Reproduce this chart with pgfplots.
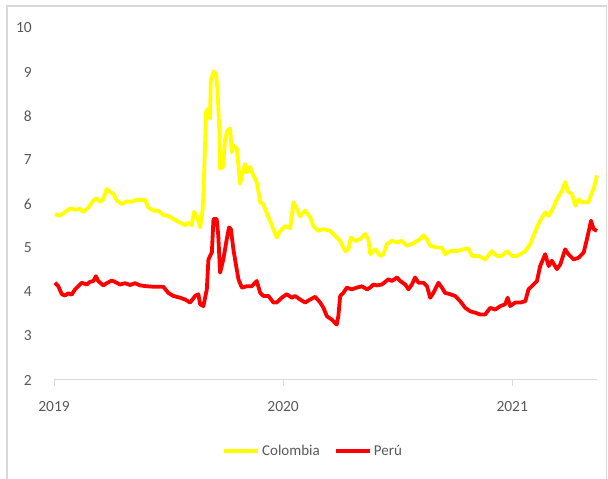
\documentclass[border=0pt]{standalone}
\usepackage{pgfplots}
\pgfplotsset{compat=1.18}
\usepackage{pgfplotstable}
\usepackage{fontspec}
\setmainfont{Carlito}
\definecolor{tickgray}{HTML}{595959}
\definecolor{axgray}{HTML}{D9D9D9}
\definecolor{framegray}{HTML}{D9D9D9}
\definecolor{colyellow}{HTML}{FFFF00}
\definecolor{perured}{HTML}{FF0000}

\pgfplotstableread{
x y
2019.004 5.77
2019.026 5.73
2019.048 5.82
2019.070 5.90
2019.092 5.87
2019.114 5.89
2019.128 5.82
2019.150 5.92
2019.172 6.08
2019.186 6.13
2019.201 6.05
2019.215 6.11
2019.230 6.34
2019.245 6.27
2019.259 6.23
2019.274 6.08
2019.296 6.00
2019.317 6.06
2019.339 6.05
2019.361 6.10
2019.383 6.09
2019.397 6.10
2019.412 5.92
2019.434 5.85
2019.455 5.85
2019.477 5.75
2019.499 5.73
2019.521 5.66
2019.550 5.58
2019.572 5.52
2019.586 5.57
2019.601 5.52
2019.611 5.82
2019.623 5.73
2019.638 5.47
2019.649 5.89
2019.653 6.34
2019.664 8.09
2019.674 8.17
2019.681 7.94
2019.684 8.78
2019.696 9.01
2019.707 8.97
2019.713 8.63
2019.722 7.64
2019.725 6.80
2019.737 6.84
2019.747 7.48
2019.757 7.67
2019.769 7.71
2019.776 7.18
2019.783 7.33
2019.798 7.26
2019.812 6.46
2019.820 6.65
2019.834 6.91
2019.841 6.72
2019.856 6.84
2019.870 6.65
2019.885 6.50
2019.900 6.04
2019.914 6.00
2019.921 5.89
2019.943 5.62
2019.972 5.24
2019.987 5.38
2020.009 5.50
2020.031 5.45
2020.045 6.04
2020.060 5.89
2020.074 5.72
2020.096 5.85
2020.118 5.70
2020.132 5.50
2020.154 5.39
2020.176 5.43
2020.205 5.39
2020.227 5.28
2020.249 5.16
2020.271 4.93
2020.285 4.97
2020.296 5.24
2020.314 5.16
2020.336 5.20
2020.358 5.32
2020.372 5.20
2020.380 4.86
2020.402 4.97
2020.424 4.82
2020.438 4.86
2020.453 5.09
2020.475 5.16
2020.497 5.13
2020.518 5.16
2020.540 5.05
2020.562 5.09
2020.584 5.16
2020.598 5.20
2020.613 5.29
2020.628 5.20
2020.642 5.05
2020.671 5.01
2020.693 5.01
2020.707 4.86
2020.729 4.93
2020.759 4.93
2020.787 4.97
2020.809 4.99
2020.824 4.82
2020.853 4.82
2020.882 4.74
2020.911 4.93
2020.933 4.82
2020.955 4.82
2020.977 4.93
2020.999 4.82
2021.021 4.82
2021.035 4.86
2021.057 4.93
2021.079 5.09
2021.093 5.28
2021.108 5.47
2021.122 5.62
2021.144 5.81
2021.159 5.73
2021.180 5.92
2021.195 6.11
2021.217 6.30
2021.231 6.50
2021.245 6.27
2021.261 6.23
2021.275 5.96
2021.290 6.11
2021.304 6.04
2021.333 6.04
2021.348 6.27
2021.355 6.34
2021.370 6.65
}\colombia

\pgfplotstableread{
x y
2019.004 4.21
2019.019 4.13
2019.034 3.95
2019.048 3.92
2019.062 3.97
2019.077 3.94
2019.092 4.06
2019.106 4.13
2019.121 4.21
2019.143 4.17
2019.157 4.23
2019.172 4.25
2019.183 4.36
2019.193 4.25
2019.215 4.15
2019.230 4.20
2019.252 4.26
2019.266 4.23
2019.288 4.17
2019.310 4.20
2019.332 4.16
2019.354 4.20
2019.376 4.15
2019.405 4.13
2019.434 4.12
2019.477 4.12
2019.499 3.98
2019.521 3.91
2019.550 3.87
2019.572 3.83
2019.594 3.76
2019.616 3.91
2019.630 3.95
2019.638 3.72
2019.652 3.68
2019.667 4.06
2019.674 4.74
2019.689 4.90
2019.696 5.66
2019.710 5.66
2019.717 5.28
2019.725 4.44
2019.739 4.74
2019.754 5.20
2019.764 5.47
2019.772 5.43
2019.783 4.97
2019.795 4.59
2019.805 4.29
2019.820 4.10
2019.841 4.13
2019.863 4.13
2019.885 4.25
2019.900 3.98
2019.914 3.91
2019.936 3.91
2019.958 3.76
2019.972 3.76
2019.994 3.87
2020.016 3.95
2020.038 3.87
2020.052 3.91
2020.074 3.83
2020.096 3.76
2020.118 3.83
2020.140 3.89
2020.162 3.76
2020.176 3.64
2020.191 3.45
2020.213 3.37
2020.234 3.26
2020.241 3.45
2020.249 3.91
2020.263 3.98
2020.278 4.10
2020.300 4.06
2020.322 4.10
2020.344 4.13
2020.366 4.06
2020.380 4.10
2020.394 4.17
2020.409 4.15
2020.431 4.17
2020.460 4.29
2020.475 4.25
2020.497 4.33
2020.511 4.25
2020.533 4.17
2020.547 4.06
2020.562 4.17
2020.576 4.33
2020.591 4.21
2020.613 4.21
2020.628 4.13
2020.642 3.87
2020.656 3.98
2020.678 4.21
2020.693 4.10
2020.707 3.98
2020.729 3.95
2020.751 3.91
2020.773 3.79
2020.795 3.64
2020.817 3.56
2020.838 3.53
2020.860 3.49
2020.882 3.49
2020.904 3.64
2020.926 3.60
2020.948 3.68
2020.969 3.72
2020.980 3.87
2020.991 3.68
2021.013 3.76
2021.035 3.76
2021.057 3.79
2021.071 4.06
2021.093 4.17
2021.108 4.25
2021.122 4.59
2021.144 4.86
2021.159 4.59
2021.173 4.71
2021.195 4.52
2021.210 4.63
2021.231 4.97
2021.245 4.86
2021.268 4.74
2021.290 4.78
2021.312 4.90
2021.326 5.20
2021.344 5.62
2021.355 5.43
2021.370 5.39
}\peru

\begin{document}
\begin{tikzpicture}[x=1pt,y=1pt]
\path[use as bounding box] (0,0) rectangle (608,479);
\draw[framegray, line width=1.2pt] (7,-2) -- (7,473) -- (606.5,473) -- (606.5,-2);
\begin{axis}[
  at={(54pt,99pt)}, anchor=south west,
  scale only axis,
  width=543pt, height=352pt,
  xmin=2019, xmax=2021.37,
  ymin=2, ymax=10,
  xtick={2019,2020,2021},
  xticklabels={2019,2020,2021},
  ytick={2,3,...,10},
  axis x line*=bottom,
  axis y line*=left,
  y axis line style={draw=none},
  x axis line style={axgray, line width=1pt},
  ytick style={draw=none},
  xtick style={axgray, line width=1pt},
  tick align=outside,
  major tick length=6pt,
  tick label style={font=\fontsize{15.5}{17}\selectfont, text=tickgray},
  /pgf/number format/assume math mode=true,
  y tick label style={anchor=east, inner sep=0pt, xshift=-16pt},
  x tick label style={anchor=north, inner sep=0pt, yshift=-15pt},
  legend columns=2,
  legend style={draw=none, fill=none, at={(0.477,-0.202)}, anchor=center,
    font=\fontsize{15}{17}\selectfont, text=tickgray,
    /tikz/every even column/.append style={column sep=12pt}},
  legend image code/.code={\draw[#1, line width=4pt] (0pt,0pt) -- (34pt,0pt);},
  clip=false,
]
\addplot[colyellow, line width=3.8pt, line join=round] table {\colombia};
\addlegendentry{Colombia}
\addplot[perured, line width=3.8pt, line join=round] table {\peru};
\addlegendentry{Perú}
\end{axis}
\end{tikzpicture}
\end{document}
